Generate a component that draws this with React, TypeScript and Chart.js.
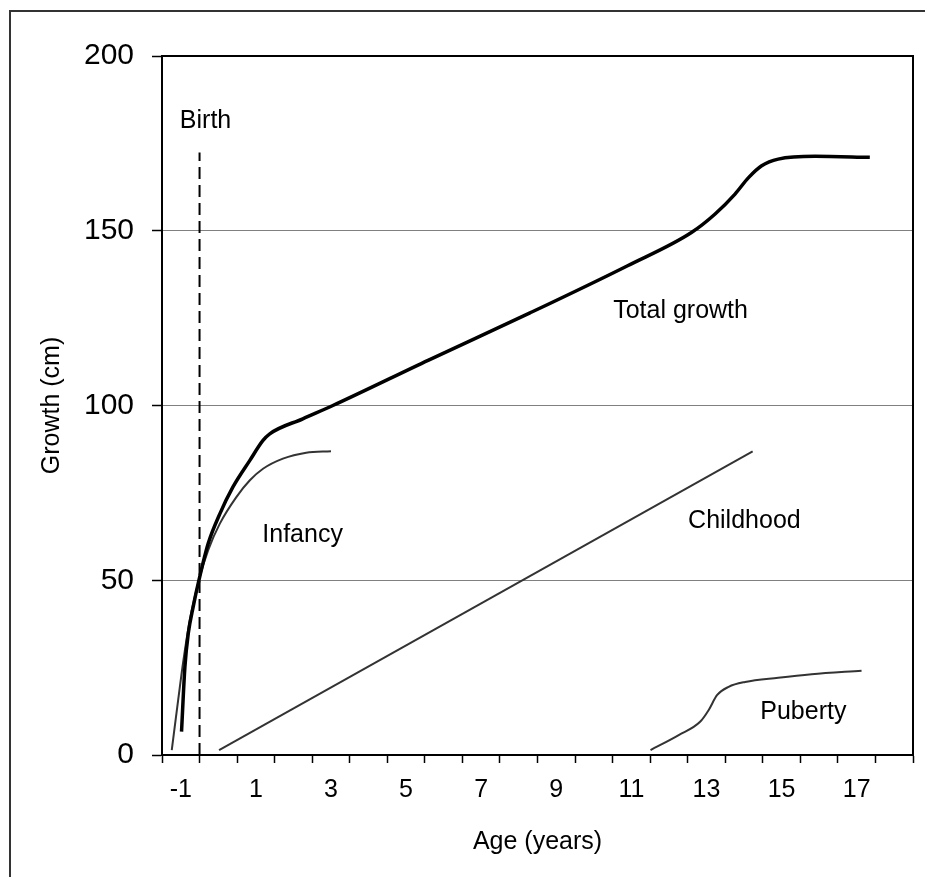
import React, { useEffect, useRef } from 'react';
import { Chart, registerables } from 'chart.js';
Chart.register(...registerables);

// ---- data (x in axis units, y in cm) ----
const totalX = [-0.98, -0.89, -0.8, -0.67, -0.51, -0.27, 0.04, 0.39, 0.84, 1.19, 1.37, 2.25, 3.05, 5.6, 8.3, 10.9, 12.6, 13.23, 13.76, 14.12, 14.47, 14.91, 15.89, 17.35];
const totalY = [6.7, 25.2, 34.8, 42.4, 50.3, 60.5, 69, 76.7, 84.3, 90, 91.9, 96.2, 100, 113, 126.5, 140, 149.5, 154.8, 160.5, 165.2, 168.6, 170.5, 171.3, 171];

const infancyX = [-1.24, -1.07, -0.93, -0.76, -0.51, -0.27, 0.04, 0.48, 0.84, 1.19, 1.72, 2.34, 3.0];
const infancyY = [1.4, 15.7, 27.1, 38.6, 50.3, 58.6, 66.2, 73.8, 78.6, 81.9, 84.8, 86.5, 86.9];

const childhoodX = [0.02, 14.23];
const childhoodY = [1.4, 86.9];

const pubertyX = [11.51, 12.26, 12.83, 13.06, 13.28, 13.59, 14.03, 14.91, 15.8, 17.13];
const pubertyY = [1.4, 5.7, 9.5, 12.9, 17.1, 19.5, 20.9, 22.1, 23.1, 24.1];

const birthX = [-0.5, -0.5];
const birthY = [0, 172.4];

// ---- axes ----
const xLabelValues = [-1, 1, 3, 5, 7, 9, 11, 13, 15, 17];
const xTickMarks = [-1.5, -0.5, 0.5, 1.5, 2.5, 3.5, 4.5, 5.5, 6.5, 7.5, 8.5, 9.5, 10.5, 11.5, 12.5, 13.5, 14.5, 15.5, 16.5, 17.5, 18.5];
const yTicks = [0, 50, 100, 150, 200];

// ---- annotation texts ----
const annoTexts = ['Birth', 'Total growth', 'Infancy', 'Childhood', 'Puberty'];
const annoX = [-0.34, 12.31, 2.245, 14.01, 15.58];
const annoY = [181.4, 126.9, 63.0, 66.8, 12.3];

const FONT = '"Liberation Sans", Arial, Helvetica, sans-serif';

const pts = (xs: number[], ys: number[]) => xs.map((x, i) => ({ x, y: ys[i] }));

export default function App() {
  const ref = useRef<HTMLCanvasElement>(null);
  useEffect(() => {
    const canvas = ref.current!;
    const framePlugin = {
      id: 'frame',
      beforeDraw(chart: any) {
        const c = chart.ctx;
        c.save();
        c.fillStyle = '#fff';
        c.fillRect(0, 0, chart.width, chart.height);
        c.strokeStyle = '#333';
        c.lineWidth = 2;
        c.strokeRect(10, 11, 2000, 2000);
        c.restore();
      },
      afterDatasetsDraw(chart: any) {
        const c = chart.ctx;
        const a = chart.chartArea;
        const xs = chart.scales.x;
        const ys = chart.scales.y;
        c.save();
        c.fillStyle = '#000';
        c.font = `25px ${FONT}`;
        c.textAlign = 'center';
        c.textBaseline = 'middle';
        annoTexts.forEach((t, i) => {
          c.fillText(t, xs.getPixelForValue(annoX[i]), ys.getPixelForValue(annoY[i]));
        });
        c.strokeStyle = '#000';
        c.lineWidth = 2;
        c.strokeRect(a.left, a.top, a.right - a.left, a.bottom - a.top);
        c.restore();
      },
    };
    const chart = new Chart(canvas, {
      type: 'line',
      data: {
        datasets: [
          { label: 'Total growth', data: pts(totalX, totalY), borderColor: '#000', borderWidth: 3.5, cubicInterpolationMode: 'monotone', pointRadius: 0 },
          { label: 'Infancy', data: pts(infancyX, infancyY), borderColor: '#333', borderWidth: 2, cubicInterpolationMode: 'monotone', pointRadius: 0 },
          { label: 'Childhood', data: pts(childhoodX, childhoodY), borderColor: '#333', borderWidth: 2, pointRadius: 0 },
          { label: 'Puberty', data: pts(pubertyX, pubertyY), borderColor: '#333', borderWidth: 2, cubicInterpolationMode: 'monotone', pointRadius: 0 },
          { label: 'Birth', data: pts(birthX, birthY), borderColor: '#000', borderWidth: 2, borderDash: [12, 6], pointRadius: 0 },
        ],
      } as any,
      options: {
        animation: false,
        responsive: false,
        parsing: false,
        layout: { padding: { left: 0, top: 56, right: 10, bottom: 0 } },
        plugins: { legend: { display: false }, tooltip: { enabled: false } },
        scales: {
          x: {
            type: 'linear',
            min: -1.5,
            max: 18.5,
            afterBuildTicks: (scale: any) => {
              const all = [...xTickMarks, ...xLabelValues].sort((a, b) => a - b);
              scale.ticks = all.map((v) => ({ value: v }));
            },
            afterFit: (scale: any) => { scale.height = 122; },
            ticks: {
              autoSkip: false,
              maxRotation: 0,
              minRotation: 0,
              padding: 12,
              color: '#000',
              font: { family: FONT, size: 25 },
              callback: (v: any) => (xLabelValues.includes(Number(v)) ? String(v) : ''),
            },
            grid: {
              drawOnChartArea: false,
              drawTicks: true,
              tickLength: 8,
              tickWidth: 1.5,
              tickColor: (ctx: any) => (ctx.tick && xTickMarks.includes(ctx.tick.value) ? '#000' : 'rgba(0,0,0,0)'),
            },
            border: { display: true, color: '#000', width: 2 },
            title: {
              display: true,
              text: 'Age (years)',
              color: '#000',
              font: { family: FONT, size: 25 },
              padding: { top: 0, bottom: 20 },
            },
          },
          y: {
            type: 'linear',
            min: 0,
            max: 200,
            afterBuildTicks: (scale: any) => { scale.ticks = yTicks.map((v) => ({ value: v })); },
            afterFit: (scale: any) => { scale.width = 162; },
            ticks: {
              padding: 18,
              color: '#000',
              font: { family: FONT, size: 30 },
            },
            grid: {
              color: '#808080',
              lineWidth: 1,
              tickColor: '#000',
              tickLength: 10,
              tickWidth: 1.5,
            },
            border: { display: true, color: '#000', width: 2 },
            title: {
              display: true,
              text: 'Growth (cm)',
              color: '#000',
              font: { family: FONT, size: 25 },
              padding: { top: 37, bottom: 0 },
            },
          },
        },
      } as any,
      plugins: [framePlugin],
    });
    return () => chart.destroy();
  }, []);
  return (
    <div style={{ position: 'fixed', left: 0, top: 0, width: 925, height: 877 }}>
      <canvas ref={ref} width={925} height={877} style={{ display: 'block' }} />
    </div>
  );
}
